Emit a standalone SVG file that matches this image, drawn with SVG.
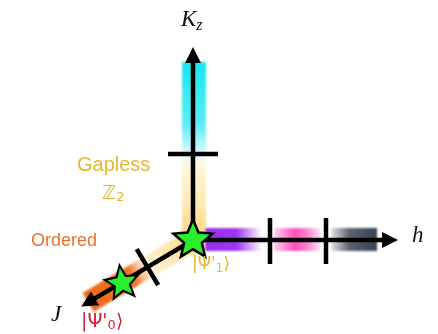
<svg xmlns="http://www.w3.org/2000/svg" xmlns:xlink="http://www.w3.org/1999/xlink" width="438" height="334" viewBox="0 0 438 334">
<style>
.axis{stroke:#000;stroke-width:4.5;fill:none}
.tick{stroke:#000;stroke-width:4.5;fill:none}
.head{fill:#000}
.math{font-family:"Liberation Serif",serif;font-style:italic;font-size:23px;fill:#111}
.sans{font-family:"Liberation Sans",sans-serif}
.ket{font-family:"DejaVu Sans",sans-serif}
.star{fill:#2cef2c;stroke:#000;stroke-width:2.4;stroke-linejoin:miter}
</style>
<defs>
<filter id="soft" x="-20%" y="-20%" width="140%" height="140%"><feGaussianBlur stdDeviation="1"/></filter>
<linearGradient id="gV" x1="0" y1="62" x2="0" y2="240" gradientUnits="userSpaceOnUse">
<stop offset="0" stop-color="#18e6f0"/>
<stop offset="0.35" stop-color="#5eecf5"/>
<stop offset="0.47" stop-color="#bff5fb"/>
<stop offset="0.53" stop-color="#eafafd"/>
<stop offset="0.58" stop-color="#fff6dc"/>
<stop offset="0.8" stop-color="#fde9b2"/>
<stop offset="1" stop-color="#f8d27a"/>
</linearGradient>
<linearGradient id="gPur" x1="205" y1="0" x2="262" y2="0" gradientUnits="userSpaceOnUse">
<stop offset="0" stop-color="#9a2ef0"/>
<stop offset="0.55" stop-color="#9d36f0"/>
<stop offset="1" stop-color="#9d36f0" stop-opacity="0"/>
</linearGradient>
<linearGradient id="gPink" x1="274" y1="0" x2="320" y2="0" gradientUnits="userSpaceOnUse">
<stop offset="0" stop-color="#ff5cc4" stop-opacity="0.3"/>
<stop offset="0.45" stop-color="#ff4fbc"/>
<stop offset="0.7" stop-color="#ff5cc4" stop-opacity="0.8"/>
<stop offset="1" stop-color="#ff5cc4" stop-opacity="0.2"/>
</linearGradient>
<linearGradient id="gSlate" x1="331" y1="0" x2="377" y2="0" gradientUnits="userSpaceOnUse">
<stop offset="0" stop-color="#3c4856" stop-opacity="0.15"/>
<stop offset="0.4" stop-color="#3c4856" stop-opacity="0.85"/>
<stop offset="1" stop-color="#36424f"/>
</linearGradient>
<linearGradient id="gDiag" x1="0" y1="0" x2="122" y2="0" gradientUnits="userSpaceOnUse">
<stop offset="0" stop-color="#f9d682"/>
<stop offset="0.2" stop-color="#fde7b0"/>
<stop offset="0.42" stop-color="#fff1d6"/>
<stop offset="0.5" stop-color="#fbc6a0"/>
<stop offset="0.58" stop-color="#f07424"/>
<stop offset="1" stop-color="#ee6a1a"/>
</linearGradient>
<radialGradient id="gGlow" cx="0.5" cy="0.5" r="0.5">
<stop offset="0" stop-color="#f7cf6e"/>
<stop offset="0.7" stop-color="#f9d98a"/>
<stop offset="1" stop-color="#fbe3a8" stop-opacity="0"/>
</radialGradient>
<path id="star" d="M0,-20 L5.29,-7.28 L19.02,-6.18 L8.56,2.78 L11.76,16.18 L0,9 L-11.76,16.18 L-8.56,2.78 L-19.02,-6.18 L-5.29,-7.28 Z"/>
</defs>

<g id="bands" filter="url(#soft)">
<rect x="182" y="62" width="24" height="178" fill="url(#gV)"/>
<g transform="translate(193,240) rotate(149.25)">
<rect x="0" y="-11" width="122" height="22" fill="url(#gDiag)"/>
</g>
<circle cx="193" cy="240" r="18" fill="url(#gGlow)"/>
<rect x="205" y="228" width="57" height="23" fill="url(#gPur)"/>
<rect x="274" y="228" width="46" height="23" fill="url(#gPink)"/>
<rect x="331" y="228" width="46" height="23" fill="url(#gSlate)"/>
</g>

<g id="connectors">
<line class="axis" x1="193" y1="240" x2="193" y2="60"/>
<polygon class="head" points="193,47 185,63 201,63"/>
<line class="axis" x1="193" y1="240" x2="384" y2="240"/>
<polygon class="head" points="398,240 382,232 382,248"/>
<g transform="translate(193,240) rotate(149.25)">
<line class="axis" x1="0" y1="0" x2="116" y2="0"/>
<polygon class="head" points="130,0 114,-8 114,8"/>
<line class="tick" x1="53" y1="-21" x2="53" y2="21"/>
</g>
<line class="tick" x1="168" y1="154" x2="218" y2="154"/>
<line class="tick" x1="270" y1="218" x2="270" y2="264"/>
<line class="tick" x1="326" y1="218" x2="326" y2="264"/>
</g>

<g id="node-psi1">
<use xlink:href="#star" class="star" transform="translate(193,240) scale(1.03)"/>
<text class="ket" x="192" y="269" font-size="17" fill="#e5b630">|Ψ'<tspan font-size="12" dy="3">1</tspan><tspan dy="-3">⟩</tspan></text>
</g>
<g id="node-psi0">
<use xlink:href="#star" class="star" transform="translate(122,283) rotate(-8) scale(0.88)"/>
<text class="ket" x="81" y="327" font-size="19" fill="#d4203a">|Ψ'<tspan font-size="13" dy="2">0</tspan><tspan dy="-2">⟩</tspan></text>
</g>

<g id="labels">
<text class="math" x="181" y="26">K<tspan font-size="16" dy="4">z</tspan></text>
<text class="math" x="412" y="242">h</text>
<text class="math" x="51" y="321">J</text>
<text class="sans" x="77" y="171" font-size="20" fill="#e5b630">Gapless</text>
<text x="102" y="199" font-family="DejaVu Sans,sans-serif" font-size="19" fill="#e5b630">ℤ<tspan font-size="13" dy="2">2</tspan></text>
<text class="sans" x="31" y="246" font-size="18" fill="#e8742a">Ordered</text>
</g>
</svg>
